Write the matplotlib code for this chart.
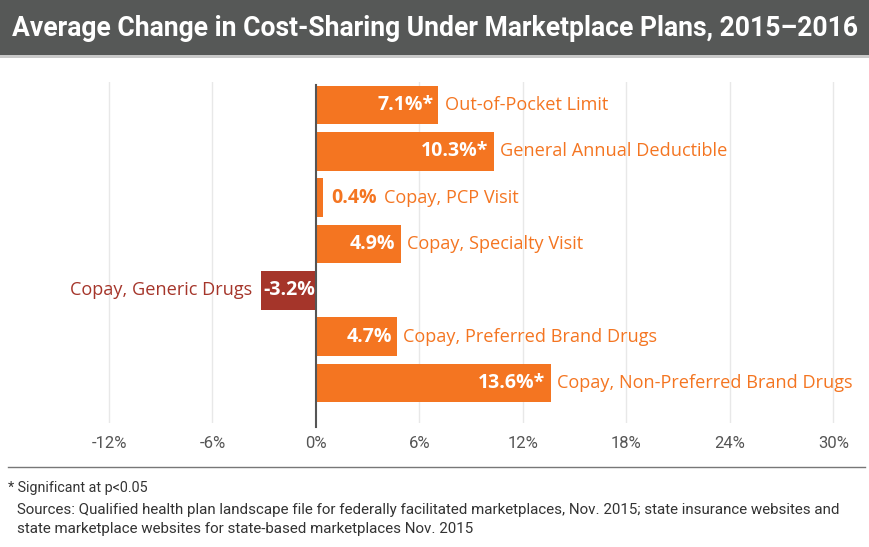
import matplotlib.pyplot as plt
from matplotlib.patches import Rectangle

categories = ["Out-of-Pocket Limit", "General Annual Deductible", "Copay, PCP Visit",
              "Copay, Specialty Visit", "Copay, Generic Drugs",
              "Copay, Preferred Brand Drugs", "Copay, Non-Preferred Brand Drugs"]
values = [7.1, 10.3, 0.4, 4.9, -3.2, 4.7, 13.6]
significant = [True, True, False, False, False, False, True]
xticks = [-12, -6, 0, 6, 12, 18, 24, 30]

orange = "#F47521"
darkred = "#A5352A"

fig = plt.figure(figsize=(8.7, 5.47), dpi=100)

# title band
fig.patches.append(Rectangle((0, 1 - 55 / 547), 1, 55 / 547, transform=fig.transFigure,
                             facecolor="#565857", edgecolor="none", zorder=0))
fig.patches.append(Rectangle((0, 1 - 58 / 547), 1, 3 / 547, transform=fig.transFigure,
                             facecolor="#c9c9c9", edgecolor="none", zorder=0))
fig.text(0.5, 1 - 28 / 547, "Average Change in Cost-Sharing Under Marketplace Plans, 2015\u20132016",
         ha="center", va="center", color="white", fontsize=19.1, fontweight="bold",
         family="Roboto")

ax = fig.add_axes([57.25 / 870, (547 - 423) / 547, 793.5 / 870, 341 / 547])
ax.set_xlim(-15, 31)
ax.set_ylim(6.863, -0.496)

for x in xticks:
    if x != 0:
        ax.axvline(x, color="#e8e8e8", lw=1, zorder=0)
ax.plot([0, 0], [-0.43, 6.95], color="#555555", lw=1.5, zorder=3, clip_on=False)

colors = [orange if v >= 0 else darkred for v in values]
ax.barh(range(len(values)), values, height=0.84, color=colors, zorder=2)

lab_font = "Open Sans"
bsize, lsize = 14, 13.1
for i, (cat, v, s) in enumerate(zip(categories, values, significant)):
    txt = f"{v:.1f}%" + ("*" if s else "")
    if v >= 0 and v > 2:
        ax.text(v - 0.3, i, txt, ha="right", va="center", color="white",
                fontsize=bsize, fontweight="bold", family=lab_font)
        ax.text(v + 0.35, i, cat, ha="left", va="center", color=orange,
                fontsize=lsize, family=lab_font)
    elif v >= 0:
        ax.text(v + 0.5, i, txt, ha="left", va="center", color=orange,
                fontsize=bsize, fontweight="bold", family=lab_font)
        ax.text(v + 3.55, i, cat, ha="left", va="center", color=orange,
                fontsize=lsize, family=lab_font)
    else:
        ax.text(v + 0.15, i, txt, ha="left", va="center", color="white",
                fontsize=bsize, fontweight="bold", family=lab_font)
        ax.text(v - 0.5, i, cat, ha="right", va="center", color=darkred,
                fontsize=lsize, family=lab_font)

ax.set_xticks(xticks)
ax.set_xticklabels([f"{x}%" for x in xticks], color="#555555", fontsize=12, family="Roboto")
ax.tick_params(axis="x", length=0, pad=9)
ax.set_yticks([])
for sp in ax.spines.values():
    sp.set_visible(False)

fig.add_artist(plt.Line2D([8 / 870, 865 / 870], [1 - 467 / 547] * 2,
                          transform=fig.transFigure, color="#777777", lw=1))
fig.text(8 / 870, 1 - 488 / 547, "* Significant at p<0.05", ha="left", va="center",
         fontsize=10.3, color="#333333", family="Roboto")
fig.text(17 / 870, 1 - 510 / 547,
         "Sources: Qualified health plan landscape file for federally facilitated marketplaces, Nov. 2015; "
         "state insurance websites and", ha="left", va="center", fontsize=10.9, color="#333333",
         family="Roboto")
fig.text(17 / 870, 1 - 529 / 547, "state marketplace websites for state-based marketplaces Nov. 2015",
         ha="left", va="center", fontsize=10.9, color="#333333", family="Roboto")

fig.savefig("out.png", dpi=100)
